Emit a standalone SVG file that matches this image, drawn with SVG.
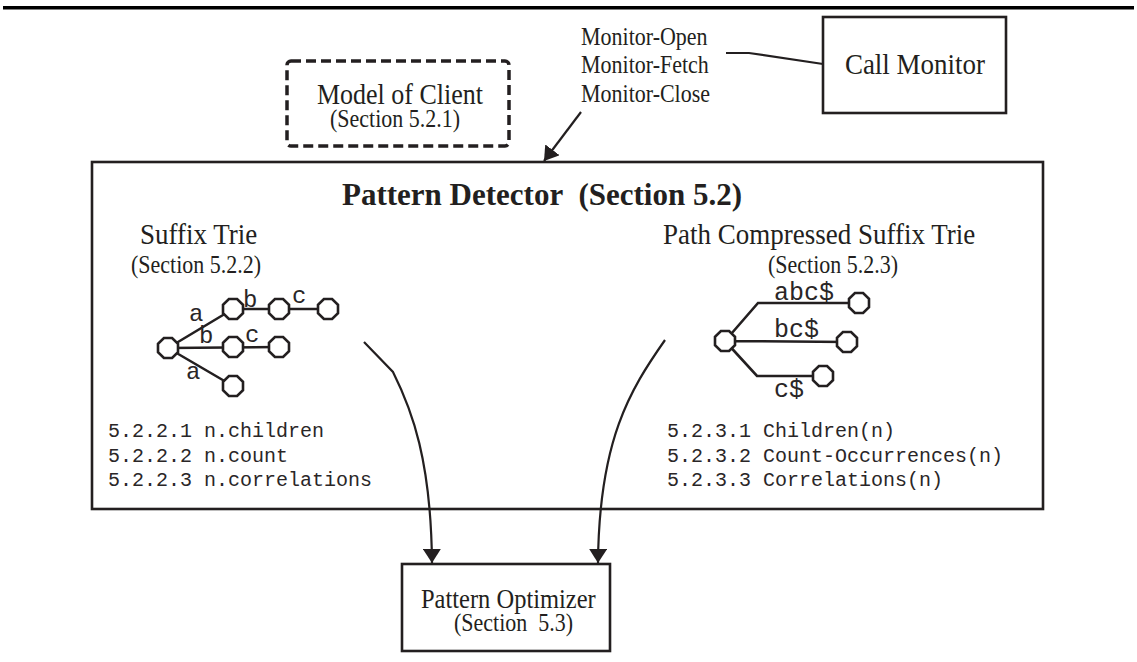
<svg xmlns="http://www.w3.org/2000/svg" width="1137" height="662" viewBox="0 0 1137 662">
<style>
.box{fill:none;stroke:#231f20;stroke-width:2.6}
.dash{fill:none;stroke:#231f20;stroke-width:3.5;stroke-dasharray:10 5}
.ln{fill:none;stroke:#231f20;stroke-width:2.2}
.tr{fill:none;stroke:#231f20;stroke-width:2.6}
.serif{font-family:"Liberation Serif","Times New Roman",serif;fill:#231f20}
.mono{font-family:"Liberation Mono","Courier New",monospace;fill:#2a2627}
.oct{fill:#fff;stroke:#231f20;stroke-width:2.6}
</style>
<defs>
<marker id="arr" viewBox="0 0 14 18" refX="14" refY="9" markerWidth="14" markerHeight="18" markerUnits="userSpaceOnUse" orient="auto">
<path d="M0,0 L14,9 L0,18 Z" fill="#231f20"/>
</marker>
<path id="o" class="oct" d="M-4.1,-10 L4.1,-10 L10,-4.1 L10,4.1 L4.1,10 L-4.1,10 L-10,4.1 L-10,-4.1 Z"/>
</defs>
<rect x="3" y="6" width="1131" height="3.5" fill="#000"/>

<g id="call-monitor">
<rect class="box" x="823" y="17" width="183" height="96"/>
<text class="serif" x="915" y="74" font-size="27" text-anchor="middle" transform="matrix(1 0 0 1.12 0 -8.88)">Call Monitor</text>
</g>

<g id="monitor-calls">
<text class="serif" x="581" y="45" font-size="22" transform="matrix(1 0 0 1.12 0 -5.4)">Monitor-Open</text>
<text class="serif" x="581" y="73" font-size="22" transform="matrix(1 0 0 1.12 0 -8.76)">Monitor-Fetch</text>
<text class="serif" x="581" y="102" font-size="22" transform="matrix(1 0 0 1.12 0 -12.24)">Monitor-Close</text>
</g>

<g id="model-of-client">
<rect class="dash" x="287" y="61" width="222" height="85" rx="4"/>
<text class="serif" x="400" y="104" font-size="26" text-anchor="middle" transform="matrix(1 0 0 1.12 0 -12.48)">Model of Client</text>
<text class="serif" x="395" y="127" font-size="22" text-anchor="middle" transform="matrix(1 0 0 1.12 0 -15.24)">(Section 5.2.1)</text>
</g>

<g id="pattern-detector">
<rect class="box" x="92" y="162" width="951" height="347"/>
<text class="serif" x="342" y="205" font-size="31" font-weight="bold">Pattern Detector</text>
<text class="serif" x="742" y="205" font-size="31" font-weight="bold" text-anchor="end">(Section 5.2)</text>
</g>

<g id="suffix-trie">
<text class="serif" x="140" y="244" font-size="27" transform="matrix(1 0 0 1.12 0 -29.28)">Suffix Trie</text>
<text class="serif" x="131" y="273" font-size="22" transform="matrix(1 0 0 1.12 0 -32.76)">(Section 5.2.2)</text>
<path class="tr" d="M168,348 L233,309 M233,309 L328,309 M168,348 L279,347 M168,348 L233,386"/>
<use href="#o" x="168" y="348"/>
<use href="#o" x="233" y="309"/>
<use href="#o" x="279" y="309"/>
<use href="#o" x="328" y="309"/>
<use href="#o" x="233" y="347"/>
<use href="#o" x="279" y="347"/>
<use href="#o" x="233" y="386"/>
<text class="mono" x="189" y="321" font-size="24">a</text>
<text class="mono" x="243" y="307" font-size="24">b</text>
<text class="mono" x="292" y="303" font-size="24">c</text>
<text class="mono" x="199" y="343" font-size="24">b</text>
<text class="mono" x="245" y="342" font-size="24">c</text>
<text class="mono" x="186" y="379" font-size="24">a</text>
<text class="mono" x="108" y="437" font-size="20">5.2.2.1 n.children</text>
<text class="mono" x="108" y="462" font-size="20">5.2.2.2 n.count</text>
<text class="mono" x="108" y="486" font-size="20">5.2.2.3 n.correlations</text>
</g>

<g id="path-compressed-suffix-trie">
<text class="serif" x="663" y="244" font-size="27" transform="matrix(1 0 0 1.12 0 -29.28)">Path Compressed Suffix Trie</text>
<text class="serif" x="768" y="273" font-size="22" transform="matrix(1 0 0 1.12 0 -32.76)">(Section 5.2.3)</text>
<path class="tr" d="M725,341 L758,303 L859,303 M725,341 L847,342 M725,341 L757,376 L823,376"/>
<use href="#o" x="725" y="341"/>
<use href="#o" x="859" y="303"/>
<use href="#o" x="847" y="342"/>
<use href="#o" x="823" y="376"/>
<text class="mono" x="774" y="300" font-size="25">abc$</text>
<text class="mono" x="774" y="337" font-size="25">bc$</text>
<text class="mono" x="774" y="397" font-size="25">c$</text>
<text class="mono" x="667" y="437" font-size="20">5.2.3.1 Children(n)</text>
<text class="mono" x="667" y="462" font-size="20">5.2.3.2 Count-Occurrences(n)</text>
<text class="mono" x="667" y="486" font-size="20">5.2.3.3 Correlations(n)</text>
</g>

<g id="pattern-optimizer">
<rect class="box" x="402" y="564" width="208" height="87"/>
<text class="serif" x="421" y="608" font-size="24.5" transform="matrix(1 0 0 1.12 0 -72.96)">Pattern Optimizer</text>
<text class="serif" x="454" y="631" font-size="22" style="white-space:pre" transform="matrix(1 0 0 1.12 0 -75.72)">(Section  5.3)</text>
</g>

<g id="connectors">
<path class="ln" d="M726,53 L749,53 L823,64"/>
<path class="ln" d="M581,112 L544,161" marker-end="url(#arr)"/>
<path class="ln" d="M364,342 L393,372 C412,410 431,460 432,563" marker-end="url(#arr)"/>
<path class="ln" d="M665,340 C630,390 599,440 598,563" marker-end="url(#arr)"/>
</g>
</svg>
